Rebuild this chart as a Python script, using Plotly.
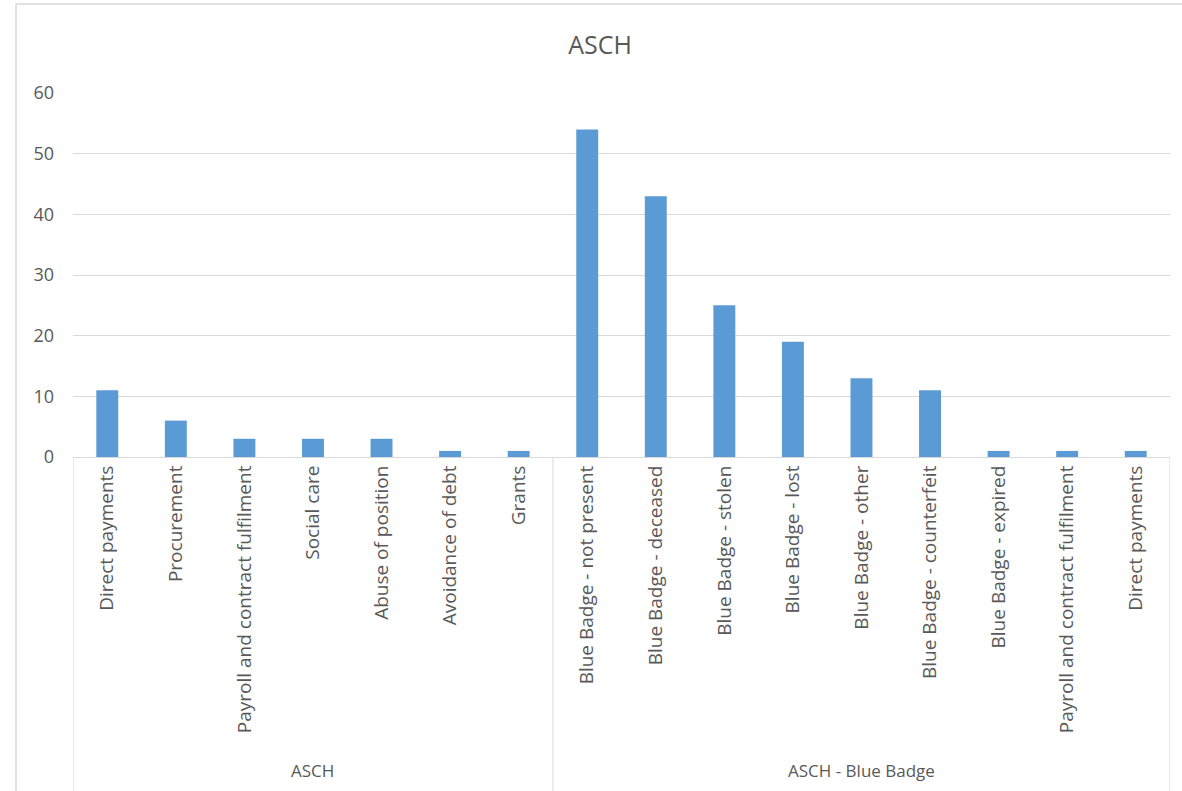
import plotly.graph_objects as go

# Incident counts by category, grouped by service area
groups = ["ASCH"] * 7 + ["ASCH - Blue Badge"] * 9
categories = [
    "Direct payments",
    "Procurement",
    "Payroll and contract fulfilment",
    "Social care",
    "Abuse of position",
    "Avoidance of debt",
    "Grants",
    "Blue Badge - not present",
    "Blue Badge - deceased",
    "Blue Badge - stolen",
    "Blue Badge - lost",
    "Blue Badge - other",
    "Blue Badge - counterfeit",
    "Blue Badge - expired",
    "Payroll and contract fulfilment",
    "Direct payments",
]
counts = [11, 6, 3, 3, 3, 1, 1, 54, 43, 25, 19, 13, 11, 1, 1, 1]
y_ticks = [0, 10, 20, 30, 40, 50, 60]

W, H = 1182, 791
L, R, T, B = 73, 12, 93, 334
PW, PH = W - L - R, H - T - B
GRID = "#d9d9d9"
TXT = "#595959"
FONT = "Open Sans"

positions = list(range(len(categories)))

fig = go.Figure(
    go.Bar(
        x=positions,
        y=counts,
        customdata=[[g, c] for g, c in zip(groups, categories)],
        hovertemplate="%{customdata[0]} / %{customdata[1]}: %{y}<extra></extra>",
        marker=dict(color="#5B9BD5", line=dict(width=0)),
    )
)

fig.update_layout(
    width=W,
    height=H,
    margin=dict(l=L, r=R, t=T, b=B),
    paper_bgcolor="white",
    plot_bgcolor="white",
    bargap=0.68,
    showlegend=False,
    font=dict(family=FONT, color=TXT, size=16),
    title=dict(
        text="ASCH",
        x=600 / W,
        xanchor="center",
        y=1 - 45 / H,
        yanchor="middle",
        font=dict(family=FONT, size=25, color=TXT),
    ),
)

fig.update_xaxes(
    range=[-0.5, len(categories) - 0.5],
    tickmode="array",
    tickvals=positions,
    ticktext=categories,
    tickangle=-90,
    showgrid=False,
    zeroline=False,
    showline=True,
    linecolor=GRID,
    linewidth=1,
    ticks="",
    ticklabelstandoff=0,
    tickfont=dict(family=FONT, size=19, color=TXT),
)

fig.update_yaxes(
    range=[0, 60],
    tickvals=y_ticks,
    showgrid=True,
    gridcolor=GRID,
    gridwidth=1,
    zeroline=False,
    showline=False,
    ticks="",
    ticklabelstandoff=18,
    tickfont=dict(family=FONT, size=18, color=TXT),
)

# Group boundaries on the category axis, with a divider at each edge
bounds = [-0.5]
for i in range(1, len(groups)):
    if groups[i] != groups[i - 1]:
        bounds.append(i - 0.5)
bounds.append(len(groups) - 0.5)

div_bottom = -(H + 10 - (H - B)) / PH
for b in bounds:
    fig.add_shape(
        type="line",
        xref="x",
        yref="paper",
        x0=b,
        x1=b,
        y0=0,
        y1=div_bottom,
        line=dict(color=GRID, width=1),
    )

# Group labels centred under each group
group_names = []
for g in groups:
    if g not in group_names:
        group_names.append(g)
for k, g in enumerate(group_names):
    fig.add_annotation(
        x=(bounds[k] + bounds[k + 1]) / 2,
        y=-(770 - (H - B)) / PH,
        xref="x",
        yref="paper",
        text=g,
        showarrow=False,
        xanchor="center",
        yanchor="middle",
        font=dict(family=FONT, size=17, color=TXT),
    )

# Outer chart border
fig.add_shape(
    type="rect",
    xref="paper",
    yref="paper",
    x0=(16 - L) / PW,
    x1=(1195 - L) / PW,
    y0=-(800 - (H - B)) / PH,
    y1=((H - B) - 4) / PH,
    line=dict(color=GRID, width=1.5),
    fillcolor="rgba(0,0,0,0)",
    layer="below",
)

fig.write_html("out.html")
